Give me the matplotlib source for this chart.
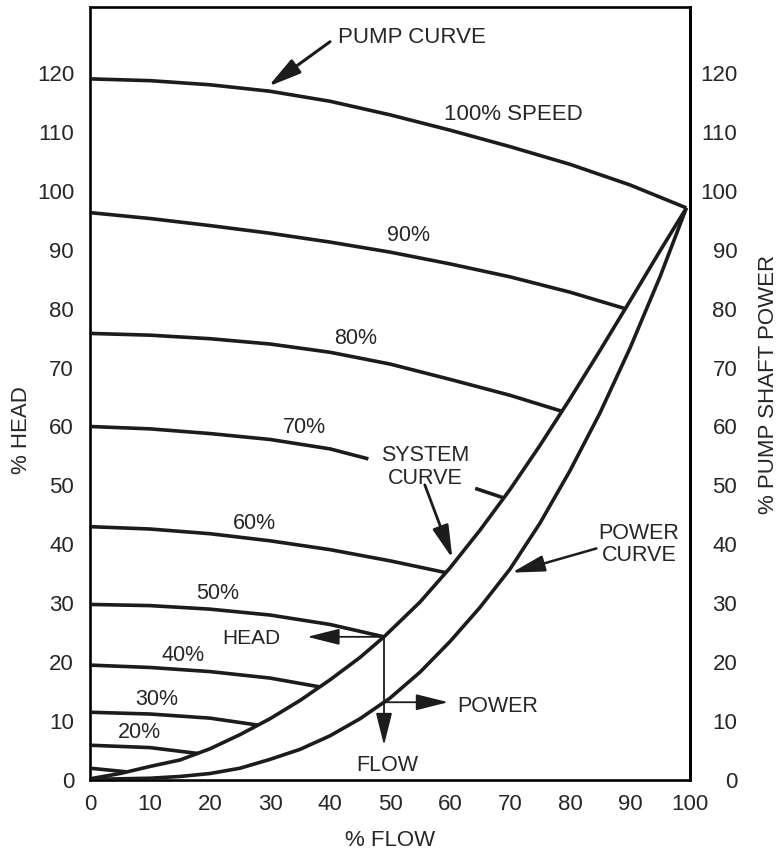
import matplotlib.pyplot as plt
import numpy as np

plt.rcParams['font.family'] = ['Liberation Sans', 'DejaVu Sans']

# pump curves at each speed (% flow, % head)
s100_x = [0, 10, 20, 30, 40, 50, 60, 70, 80, 90, 99.4]
s100_y = [119.0, 118.7, 118.0, 116.9, 115.2, 112.9, 110.3, 107.5, 104.5, 101.0, 97.1]
s90_x = [0, 10, 20, 30, 40, 50, 60, 70, 80, 89.2]
s90_y = [96.3, 95.3, 94.1, 92.8, 91.3, 89.6, 87.6, 85.4, 82.8, 80.0]
s80_x = [0, 10, 20, 30, 40, 50, 60, 70, 78.6]
s80_y = [75.8, 75.5, 74.9, 74.0, 72.6, 70.6, 68.0, 65.3, 62.6]
s70a_x = [0, 10, 20, 30, 40, 46.4]
s70a_y = [60.0, 59.6, 58.8, 57.8, 56.2, 54.5]
s70b_x = [64.2, 68.9]
s70b_y = [49.5, 47.9]
s60_x = [0, 10, 20, 30, 40, 50, 59.3]
s60_y = [43.0, 42.6, 41.8, 40.6, 39.1, 37.2, 35.2]
s50_x = [0, 10, 20, 30, 40, 49.0]
s50_y = [29.8, 29.6, 29.0, 28.0, 26.4, 24.3]
s40_x = [0, 10, 20, 30, 38.3]
s40_y = [19.5, 19.1, 18.4, 17.3, 15.8]
s30_x = [0, 10, 20, 28.1]
s30_y = [11.5, 11.2, 10.5, 9.3]
s20_x = [0, 10, 18.0]
s20_y = [5.9, 5.5, 4.5]
s10_x = [0, 6.0]
s10_y = [2.0, 1.4]

system_x = [0, 5, 10, 15, 20, 25, 30, 35, 40, 45, 49, 55, 60, 65, 70, 75, 80, 85, 90, 95, 99.4]
system_y = [0.2, 1.1, 2.3, 3.4, 5.3, 7.7, 10.4, 13.5, 17.0, 20.8, 24.3, 30.2, 36.0, 42.4,
            49.3, 56.8, 64.7, 72.9, 81.3, 89.8, 97.1]
power_x = [0, 10, 15, 20, 25, 30, 35, 40, 45, 50, 55, 60, 65, 70, 75, 80, 85, 90, 95, 99.4]
power_y = [0.1, 0.3, 0.6, 1.1, 2.0, 3.5, 5.2, 7.5, 10.4, 13.9, 18.3, 23.5, 29.3, 35.8,
           43.6, 52.5, 62.3, 73.3, 85.4, 97.1]

ticks = list(range(0, 101, 10))
yticks = list(range(0, 121, 10))

ink = '#1c1c1c'
txt = '#262626'

fig = plt.figure(figsize=(7.8, 8.52), dpi=100)
ax = fig.add_axes([90/780, 72/852, 600/780, 773/852])

curves = [(s100_x, s100_y), (s90_x, s90_y), (s80_x, s80_y), (s70a_x, s70a_y),
          (s70b_x, s70b_y), (s60_x, s60_y), (s50_x, s50_y), (s40_x, s40_y),
          (s30_x, s30_y), (s20_x, s20_y), (s10_x, s10_y),
          (system_x, system_y), (power_x, power_y)]
for cx, cy in curves:
    ax.plot(cx, cy, color=ink, lw=2.6, solid_capstyle='butt', solid_joinstyle='round')

ax.set_xlim(0, 100)
ax.set_ylim(0, 131.2)
ax.set_xticks(ticks)
ax.set_yticks(yticks)
ax.tick_params(length=0, labelsize=16, colors=txt)
ax.tick_params(axis='x', pad=10)
ax.tick_params(axis='y', pad=11.5)
for sp in ax.spines.values():
    sp.set_linewidth(2.0)
    sp.set_color(ink)

ax2 = ax.twinx()
ax2.set_ylim(0, 131.2)
ax2.set_yticks(yticks)
ax2.tick_params(length=0, labelsize=16, colors=txt, pad=34)
for lab in ax2.get_yticklabels():
    lab.set_ha('right')
ax2.spines['right'].set_linewidth(2.0)

ax.set_xlabel('% FLOW', fontsize=16, color=txt)
ax.xaxis.set_label_coords(0.5, -0.065)
ax.set_ylabel('% HEAD', fontsize=16, color=txt)
ax.yaxis.set_label_coords(-0.097, 0.453)
ax2.set_ylabel('% PUMP SHAFT POWER', fontsize=16, color=txt, rotation=90)
ax2.yaxis.set_label_coords(1.113, 0.512)

# curve labels
labels = ['100% SPEED', '90%', '80%', '70%', '60%', '50%', '40%', '30%', '20%']
label_x = [70.5, 53.0, 44.2, 35.8, 27.4, 21.2, 15.5, 11.2, 8.2]
label_y = [112.9, 92.5, 74.9, 59.9, 43.6, 31.7, 21.1, 13.6, 8.0]
for t, lx, ly in zip(labels, label_x, label_y):
    ax.text(lx, ly, t, fontsize=16 if 'SPEED' in t else 15.5, color=txt,
            ha='center', va='center')

ax.text(41.3, 126.0, 'PUMP CURVE', fontsize=16, color=txt, ha='left', va='center')
ax.text(55.8, 53.1, 'SYSTEM\nCURVE', fontsize=15.5, color=txt, ha='center', va='center',
        linespacing=1.1)
ax.text(91.5, 40.0, 'POWER\nCURVE', fontsize=15.5, color=txt, ha='center', va='center',
        linespacing=1.1)
ax.text(31.7, 24.1, 'HEAD', fontsize=15, color=txt, ha='right', va='center')
ax.text(49.5, 2.5, 'FLOW', fontsize=15.5, color=txt, ha='center', va='center')
ax.text(61.2, 12.4, 'POWER', fontsize=15.5, color=txt, ha='left', va='center')

def arrow(tail, tip, lw):
    ax.annotate('', xy=tip, xytext=tail,
                arrowprops=dict(arrowstyle='-|>,head_length=2.0,head_width=0.5',
                                color=ink, lw=lw, shrinkA=0, shrinkB=0))

arrow((40.0, 125.3), (29.7, 117.7), 2.2)
arrow((55.8, 50.1), (60.4, 37.6), 2.0)
arrow((84.4, 39.3), (70.3, 35.2), 1.8)
arrow((49.0, 24.3), (36.2, 24.3), 1.3)
arrow((49.0, 24.3), (49.0, 5.9), 1.3)
arrow((49.0, 13.2), (59.7, 13.2), 1.3)

fig.savefig('out.png', dpi=100)
